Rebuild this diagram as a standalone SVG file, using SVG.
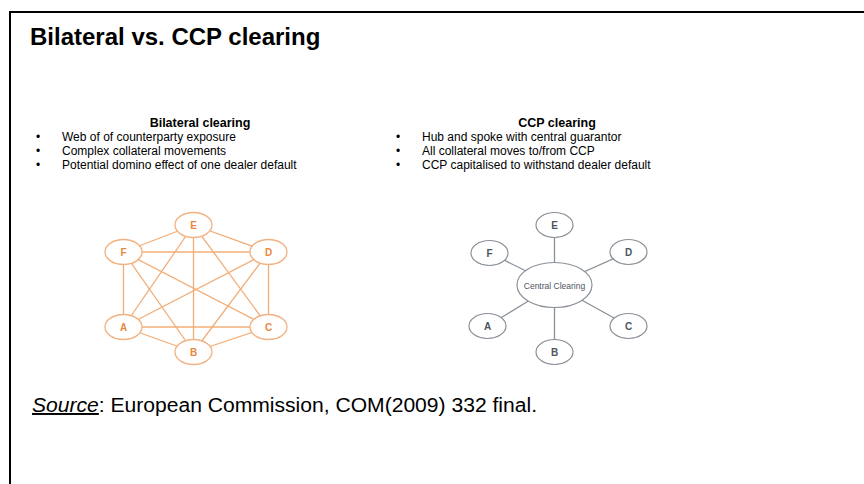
<svg xmlns="http://www.w3.org/2000/svg" width="864" height="484" viewBox="0 0 864 484">
<style>
text{font-family:"Liberation Sans",Arial,sans-serif;}
.title{font-size:24px;font-weight:bold;fill:#000;}
.head{font-size:12.5px;font-weight:bold;fill:#000;text-anchor:middle;}
.bul{font-size:12px;fill:#000;}
.oe{fill:#fff;stroke:#F2B282;stroke-width:1.3;}
.ol{stroke:#F2AE78;stroke-width:1.3;fill:none;}
.ot{font-size:10px;font-weight:bold;fill:#E8883C;text-anchor:middle;}
.ge{fill:#fff;stroke:#8A9098;stroke-width:1.2;}
.gl{stroke:#8A9098;stroke-width:1.3;fill:none;}
.gt{font-size:10px;font-weight:bold;fill:#4E5560;text-anchor:middle;}
.foot{font-size:19.5px;fill:#000;}
</style>
<rect width="864" height="484" fill="#fff"/>
<path d="M10,490 V12 H870" fill="none" stroke="#000" stroke-width="2"/>
<text class="title" x="30" y="45">Bilateral vs. CCP clearing</text>

<g id="bilateral-text">
<text class="head" x="200" y="127">Bilateral clearing</text>
<text class="bul" x="36" y="141">•</text><text class="bul" x="62" y="141">Web of of counterparty exposure</text>
<text class="bul" x="36" y="155">•</text><text class="bul" x="62" y="155">Complex collateral movements</text>
<text class="bul" x="36" y="169">•</text><text class="bul" x="62" y="169">Potential domino effect of one dealer default</text>
</g>
<g id="ccp-text">
<text class="head" x="557" y="127">CCP clearing</text>
<text class="bul" x="396" y="141">•</text><text class="bul" x="422" y="141">Hub and spoke with central guarantor</text>
<text class="bul" x="396" y="155">•</text><text class="bul" x="422" y="155">All collateral moves to/from CCP</text>
<text class="bul" x="396" y="169">•</text><text class="bul" x="422" y="169">CCP capitalised to withstand dealer default</text>
</g>

<g id="bilateral-connectors">
<line class="ol" x1="193.5" y1="225" x2="123.5" y2="252"/>
<line class="ol" x1="193.5" y1="225" x2="268.5" y2="252"/>
<line class="ol" x1="193.5" y1="225" x2="123.5" y2="327"/>
<line class="ol" x1="193.5" y1="225" x2="193.5" y2="352"/>
<line class="ol" x1="193.5" y1="225" x2="268.5" y2="327"/>
<line class="ol" x1="123.5" y1="252" x2="268.5" y2="252"/>
<line class="ol" x1="123.5" y1="252" x2="123.5" y2="327"/>
<line class="ol" x1="123.5" y1="252" x2="193.5" y2="352"/>
<line class="ol" x1="123.5" y1="252" x2="268.5" y2="327"/>
<line class="ol" x1="268.5" y1="252" x2="123.5" y2="327"/>
<line class="ol" x1="268.5" y1="252" x2="193.5" y2="352"/>
<line class="ol" x1="268.5" y1="252" x2="268.5" y2="327"/>
<line class="ol" x1="123.5" y1="327" x2="268.5" y2="327"/>
<line class="ol" x1="123.5" y1="327" x2="193.5" y2="352"/>
<line class="ol" x1="268.5" y1="327" x2="193.5" y2="352"/>
</g>
<g id="bl-E"><ellipse class="oe" cx="193.5" cy="225" rx="18.5" ry="12.5"/><text class="ot" x="193.5" y="228.5">E</text></g>
<g id="bl-F"><ellipse class="oe" cx="123.5" cy="252" rx="18.5" ry="12.5"/><text class="ot" x="123.5" y="255.5">F</text></g>
<g id="bl-D"><ellipse class="oe" cx="268.5" cy="252" rx="18.5" ry="12.5"/><text class="ot" x="268.5" y="255.5">D</text></g>
<g id="bl-A"><ellipse class="oe" cx="123.5" cy="327" rx="18.5" ry="12.5"/><text class="ot" x="123.5" y="330.5">A</text></g>
<g id="bl-C"><ellipse class="oe" cx="268.5" cy="327" rx="18.5" ry="12.5"/><text class="ot" x="268.5" y="330.5">C</text></g>
<g id="bl-B"><ellipse class="oe" cx="193.5" cy="352" rx="18.5" ry="12.5"/><text class="ot" x="193.5" y="355.5">B</text></g>

<g id="ccp-connectors">
<line class="gl" x1="554.5" y1="285" x2="554.5" y2="225"/>
<line class="gl" x1="554.5" y1="285" x2="489.5" y2="253"/>
<line class="gl" x1="554.5" y1="285" x2="628.5" y2="252"/>
<line class="gl" x1="554.5" y1="285" x2="487.5" y2="326"/>
<line class="gl" x1="554.5" y1="285" x2="628.5" y2="326"/>
<line class="gl" x1="554.5" y1="285" x2="554.5" y2="352"/>
</g>
<g id="ccp-central"><ellipse class="ge" cx="554.5" cy="285" rx="37.5" ry="22.5"/><text class="gt" x="554.5" y="288.5" style="font-size:8.5px;font-weight:normal">Central Clearing</text></g>
<g id="ccp-E"><ellipse class="ge" cx="554.5" cy="225" rx="18.5" ry="12.5"/><text class="gt" x="554.5" y="228.5">E</text></g>
<g id="ccp-F"><ellipse class="ge" cx="489.5" cy="253" rx="18.5" ry="12.5"/><text class="gt" x="489.5" y="256.5">F</text></g>
<g id="ccp-D"><ellipse class="ge" cx="628.5" cy="252" rx="18.5" ry="12.5"/><text class="gt" x="628.5" y="255.5">D</text></g>
<g id="ccp-A"><ellipse class="ge" cx="487.5" cy="326" rx="18.5" ry="12.5"/><text class="gt" x="487.5" y="329.5">A</text></g>
<g id="ccp-C"><ellipse class="ge" cx="628.5" cy="326" rx="18.5" ry="12.5"/><text class="gt" x="628.5" y="329.5">C</text></g>
<g id="ccp-B"><ellipse class="ge" cx="554.5" cy="352" rx="18.5" ry="12.5"/><text class="gt" x="554.5" y="355.5">B</text></g>

<text class="foot" x="32" y="412" textLength="505" lengthAdjust="spacingAndGlyphs"><tspan font-style="italic" text-decoration="underline">Source</tspan>: European Commission, COM(2009) 332 final.</text>
</svg>
